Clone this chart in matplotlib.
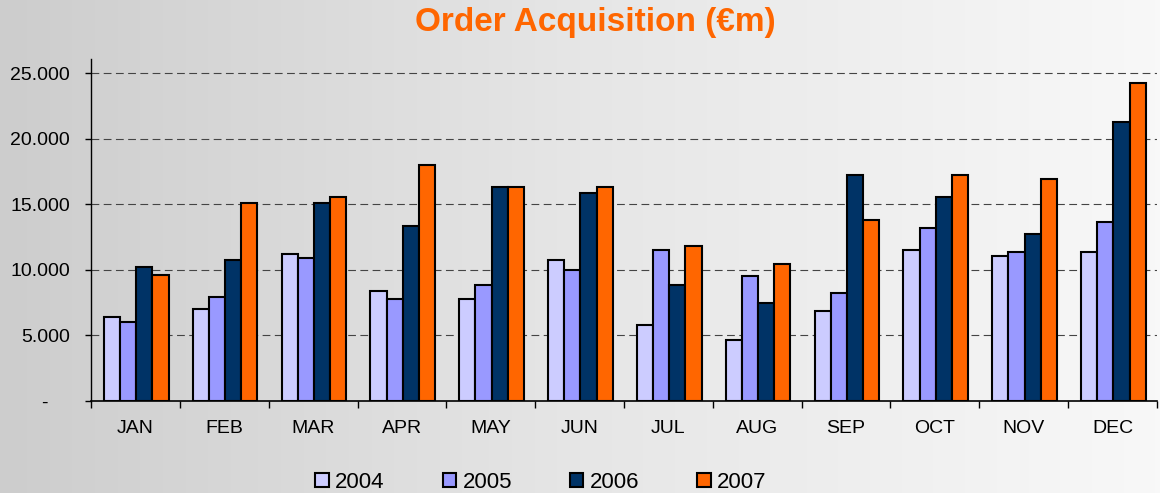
import numpy as np
import matplotlib
matplotlib.use("Agg")
import matplotlib.pyplot as plt
from matplotlib.colors import LinearSegmentedColormap

plt.rcParams['font.family'] = ['Liberation Sans', 'DejaVu Sans']

months = ['JAN', 'FEB', 'MAR', 'APR', 'MAY', 'JUN', 'JUL', 'AUG', 'SEP', 'OCT', 'NOV', 'DEC']
years = ['2004', '2005', '2006', '2007']
v2004 = [6.42, 7.04, 11.2, 8.36, 7.77, 10.77, 5.82, 4.62, 6.86, 11.53, 11.07, 11.38]
v2005 = [6.00, 7.90, 10.93, 7.77, 8.82, 9.98, 11.53, 9.55, 8.21, 13.16, 11.38, 13.62]
v2006 = [10.19, 10.77, 15.12, 13.31, 16.29, 15.88, 8.84, 7.47, 17.25, 15.55, 12.73, 21.27]
v2007 = [9.58, 15.10, 15.55, 17.96, 16.29, 16.29, 11.81, 10.44, 13.77, 17.20, 16.92, 24.26]
colors = ['#CCCCFF', '#9999FF', '#003366', '#FF6600']
yticks = [0, 5000, 10000, 15000, 20000, 25000]
ylabels = ['-    ', '5.000', '10.000', '15.000', '20.000', '25.000']

series = [np.array(v) * 1000 for v in (v2004, v2005, v2006, v2007)]

fig = plt.figure(figsize=(11.6, 4.93), dpi=100)

# background gradient
bg = fig.add_axes([0, 0, 1, 1], zorder=-10)
grad = np.linspace(0, 1, 256).reshape(1, -1)
cmap = LinearSegmentedColormap.from_list('bg', ['#cdcdcd', '#e6e6e6', '#f8f8f8'])
bg.imshow(grad, aspect='auto', cmap=cmap, extent=[0, 1, 0, 1])
bg.axis('off')

ax = fig.add_axes([91 / 1160, 1 - 401 / 493, 1066 / 1160, 342 / 493])
ax.patch.set_alpha(0)

x = np.arange(len(months))
w = 0.182
for i, (vals, c, yr) in enumerate(zip(series, colors, years)):
    ax.bar(x + (i - 1.5) * w + 0.01, vals, width=w, color=c, edgecolor='black',
           linewidth=1.5, label=yr, zorder=3)

ax.set_xlim(-0.5, len(months) - 0.5)
ax.set_ylim(0, 26070)
ax.set_yticks(yticks)
ax.set_yticklabels(ylabels, fontsize=14)
ax.tick_params(axis='y', length=4, width=1, pad=11, direction='out')
for yv in yticks[1:]:
    ax.axhline(yv, color='#444444', linestyle=(0, (7, 4)), linewidth=0.8, zorder=1)

ax.set_xticks(x)
ax.set_xticklabels(months, fontsize=14)
ax.set_xticks(np.arange(-0.5, len(months)), minor=True)
ax.tick_params(axis='x', which='major', length=0, pad=14)
ax.tick_params(axis='x', which='minor', length=5, width=1, direction='out')

for s in ['top', 'right']:
    ax.spines[s].set_visible(False)
ax.spines['left'].set_linewidth(1)
ax.spines['bottom'].set_linewidth(1.2)

fig.text(595 / 1160, 1 - 22 / 493, 'Order Acquisition (€m)', ha='center', va='center',
         fontsize=24, fontweight='bold', color='#FF6600')

fig.legend(loc='center', bbox_to_anchor=(541 / 1160, 1 - 482 / 493), ncol=4,
           frameon=False, fontsize=16, handlelength=0.6, handleheight=0.6,
           handletextpad=0.3, columnspacing=2.6)

fig.savefig('out.png', dpi=100)
